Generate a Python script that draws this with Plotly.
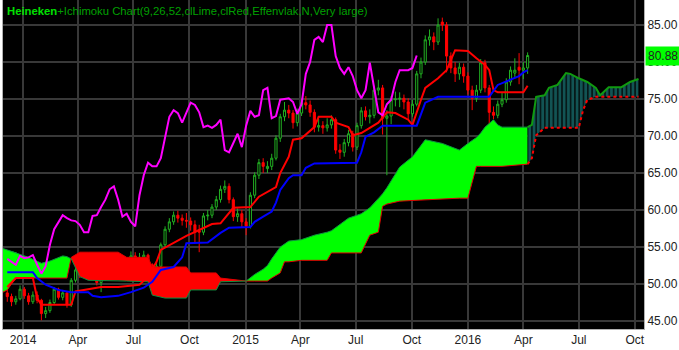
import numpy as np
import pandas as pd
import plotly.graph_objects as go

# ---------------- data (weekly candles, first week = 2013-12-06) ----------------
first_week = "2013-12-06"

opens = [48.8, 48.3, 47.6, 48.0, 49.3, 48.4, 47.6, 48.5, 47.8, 46.0,
         46.4, 47.5, 49.3, 48.2, 48.8, 47.2, 50.5, 51.9, 51.2, 51.8,
         52.2, 51.3, 50.2, 50.8, 52.6, 51.6, 51.9, 53.4, 53.0, 52.6,
         53.8, 53.5, 53.6, 53.9, 52.6, 51.4, 52.4, 55.3, 57.4, 58.4,
         59.3, 58.9, 58.6, 58.5, 58.0, 57.2, 57.0, 59.2, 59.3, 60.4,
         61.4, 62.8, 63.2, 61.4, 59.1, 59.5, 58.4, 57.8, 62.0, 64.7,
         66.4, 65.6, 65.9, 67.0, 69.7, 72.6, 73.5, 73.1, 71.8, 73.1,
         74.5, 74.2, 73.2, 71.2, 71.4, 71.1, 71.5, 72.2, 68.1, 67.8,
         69.1, 70.3, 68.5, 71.4, 73.4, 72.6, 72.8, 76.2, 76.5, 72.4,
         72.7, 74.9, 75.0, 75.1, 74.6, 73.0, 74.3, 78.4, 80.0, 83.0,
         83.4, 82.7, 85.4, 85.0, 80.8, 79.2, 78.4, 79.3, 78.1, 76.2,
         75.1, 76.2, 79.9, 76.5, 73.2, 72.8, 74.3, 74.9, 77.3, 78.5,
         79.3, 78.9, 79.2]
highs = [49.3, 48.7, 48.4, 49.8, 49.6, 48.8, 49.0, 49.0, 48.0, 46.9,
         47.9, 49.6, 49.5, 49.2, 49.0, 50.8, 52.3, 52.2, 52.4, 52.6,
         52.4, 51.6, 51.1, 53.0, 52.9, 52.4, 53.7, 53.9, 53.4, 54.4,
         54.3, 54.2, 54.5, 54.1, 52.8, 52.9, 55.6, 57.8, 58.9, 59.8,
         59.9, 59.4, 59.6, 59.0, 58.6, 58.0, 59.6, 60.0, 60.8, 61.9,
         63.3, 64.0, 63.6, 61.7, 60.2, 60.0, 58.9, 62.4, 65.1, 66.9,
         67.0, 66.6, 67.6, 70.1, 73.0, 74.6, 74.2, 73.5, 73.7, 75.0,
         75.4, 74.8, 73.6, 72.3, 72.0, 72.4, 72.8, 72.5, 68.9, 69.6,
         70.8, 70.7, 71.8, 73.9, 74.0, 73.6, 76.8, 77.6, 76.9, 73.5,
         75.4, 76.0, 75.9, 75.6, 75.1, 74.9, 78.8, 80.6, 83.6, 84.4,
         84.0, 85.9, 86.0, 85.4, 81.3, 80.0, 79.9, 79.8, 78.6, 76.8,
         76.9, 80.4, 80.3, 76.9, 74.0, 74.8, 75.9, 77.8, 79.4, 80.5,
         81.2, 80.0, 81.3]
lows = [47.6, 47.0, 47.2, 47.8, 48.0, 47.2, 47.3, 47.4, 45.1, 45.4,
        46.1, 47.3, 47.9, 47.8, 46.8, 46.9, 50.2, 50.8, 50.9, 51.4,
        50.9, 49.8, 48.9, 50.5, 51.2, 51.2, 51.5, 52.7, 52.2, 52.4,
        53.0, 53.1, 53.2, 52.2, 50.6, 51.1, 52.1, 55.0, 57.0, 58.0,
        58.3, 57.9, 57.6, 57.2, 55.5, 54.3, 56.6, 58.6, 58.9, 60.0,
        61.0, 62.3, 60.9, 58.5, 58.4, 57.6, 56.6, 57.5, 61.6, 64.2,
        65.0, 65.0, 65.4, 66.7, 69.2, 72.0, 72.4, 71.0, 71.3, 72.7,
        73.6, 72.6, 70.5, 70.6, 70.3, 70.6, 71.0, 67.6, 66.9, 67.2,
        68.6, 67.9, 68.1, 71.0, 72.1, 71.7, 72.4, 75.5, 70.2, 64.7,
        71.6, 74.0, 73.9, 73.6, 72.3, 72.6, 74.0, 77.8, 79.6, 82.2,
        81.6, 82.3, 84.2, 78.6, 78.5, 77.3, 77.6, 77.2, 75.6, 73.5,
        74.6, 75.8, 75.9, 71.0, 72.3, 72.4, 73.9, 74.5, 76.8, 77.9,
        77.0, 77.7, 78.4]
closes = [48.3, 47.6, 48.0, 49.3, 48.4, 47.6, 48.5, 47.8, 46.0, 46.4,
          47.5, 49.3, 48.2, 48.8, 47.2, 50.5, 51.9, 51.2, 51.8, 52.2,
          51.3, 50.2, 50.8, 52.6, 51.6, 51.9, 53.4, 53.0, 52.6, 53.8,
          53.5, 53.6, 53.9, 52.6, 51.4, 52.4, 55.3, 57.4, 58.4, 59.3,
          58.9, 58.6, 58.5, 58.0, 57.0, 57.0, 59.2, 59.3, 60.4, 61.4,
          62.8, 63.2, 61.4, 59.1, 59.5, 58.4, 57.8, 62.0, 64.7, 66.4,
          65.9, 65.9, 67.0, 69.7, 72.6, 73.5, 73.1, 71.8, 73.1, 74.5,
          74.2, 73.2, 71.2, 71.4, 71.1, 71.5, 72.2, 68.1, 67.8, 69.1,
          70.3, 68.5, 71.4, 73.4, 72.6, 72.8, 76.2, 76.5, 72.4, 72.7,
          74.9, 75.0, 75.1, 74.6, 73.0, 74.3, 78.4, 80.0, 83.0, 83.4,
          82.7, 85.0, 85.0, 80.8, 79.2, 78.4, 79.3, 78.1, 76.2, 75.1,
          76.2, 79.9, 76.5, 73.2, 72.8, 74.3, 74.9, 77.3, 78.9, 78.9,
          78.9, 79.2, 80.88]

# Tenkan-sen (9): week index, value
tenkan_wk = [0, 2, 6, 7, 8, 15, 16, 22, 26, 31, 33, 35, 36, 39, 42, 45, 48, 50, 52, 53,
             57, 59, 63, 64, 66, 67, 69, 72, 73, 76, 77, 80, 81, 83, 85, 87, 89, 91, 94, 95,
             97, 98, 101, 103, 105, 108, 110, 112, 113, 114, 115, 121, 122]
tenkan_val = [49.6, 50.8, 50.8, 48.1, 47.2, 47.2, 49.0, 49.6, 49.6, 49.9, 51.0, 53.0, 54.6, 55.6,
              56.5, 57.3, 58.1, 58.2, 59.6, 60.3, 60.4, 61.8, 63.1, 65.0, 67.2, 69.5, 69.7, 71.2,
              72.6, 72.6, 71.8, 71.2, 70.1, 70.4, 71.1, 71.8, 73.2, 73.1, 72.2, 71.5, 74.9, 76.5,
              77.8, 78.9, 81.6, 81.5, 80.5, 79.6, 78.9, 76.2, 75.9, 75.9, 76.8]

# Kijun-sen (26)
kijun_wk = [0, 6, 7, 9, 12, 15, 19, 20, 22, 26, 29, 32, 34, 36, 39, 41, 42, 47, 50, 52, 57, 58,
            60, 62, 63, 64, 66, 67, 69, 70, 72, 82, 83, 84, 86, 88, 96, 98, 101, 113, 115, 118,
            120, 121, 122]
kijun_val = [51.6, 51.6, 50.8, 49.9, 49.2, 48.9, 48.9, 48.4, 48.2, 48.4, 48.9, 49.5, 50.3, 51.9,
             52.3, 53.6, 55.5, 55.6, 56.9, 57.6, 57.7, 58.4, 59.1, 59.8, 61.0, 62.7, 64.3, 64.7,
             64.7, 65.7, 66.3, 66.4, 67.8, 69.9, 70.5, 71.4, 71.4, 74.5, 75.3, 75.3, 76.9, 77.6,
             78.1, 78.6, 78.9]

# Senkou spans (already shifted 26 weeks forward)
cloud_wk = [-1, 0, 2, 3, 5, 8, 10, 13, 14, 15, 17, 19, 26, 28, 33, 34, 37, 42, 43, 49, 50, 56,
            58, 60, 61, 62, 64, 65, 66, 69, 72, 75, 76, 80, 83, 85, 87, 88, 89, 92, 95, 98, 102,
            106, 108, 110, 111, 112, 114, 115, 116, 122, 123, 124, 126, 127, 129, 131, 132, 134,
            135, 136, 138, 139, 141, 144, 146, 148]
span_a = [54.8, 54.6, 54.3, 54.0, 53.6, 52.8, 53.1, 53.8, 53.7, 53.4, 51.0, 50.5, 50.5, 50.4,
          50.3, 48.5, 48.1, 48.1, 49.2, 49.2, 50.3, 50.4, 51.3, 52.0, 52.5, 53.4, 55.0, 55.4,
          55.8, 56.0, 56.6, 57.0, 57.2, 58.9, 59.5, 60.3, 61.5, 62.2, 63.0, 65.8, 67.2, 69.5,
          69.0, 68.1, 69.0, 69.8, 70.4, 71.2, 72.2, 71.5, 71.2, 71.2, 71.5, 75.3, 75.5, 76.5,
          76.9, 78.5, 78.4, 77.8, 77.6, 77.3, 76.5, 75.5, 76.6, 76.6, 77.3, 77.7]
span_b = [48.9, 49.2, 50.8, 50.8, 50.8, 50.8, 50.8, 50.8, 50.8, 53.6, 54.3, 54.3, 54.3, 53.6,
          53.6, 52.3, 52.3, 52.3, 51.5, 51.5, 50.8, 50.4, 50.4, 50.4, 50.4, 50.8, 51.5, 53.0,
          53.0, 53.2, 53.2, 53.2, 54.2, 54.2, 54.2, 56.6, 57.0, 60.5, 60.8, 61.2, 61.3, 61.4,
          61.5, 61.6, 61.6, 65.9, 65.9, 65.9, 65.9, 65.9, 65.9, 66.2, 67.0, 70.1, 71.1, 71.1,
          71.1, 71.1, 71.1, 71.1, 73.5, 74.9, 75.3, 75.3, 75.3, 75.3, 75.3, 75.3]

last_week = 122
x_tick_dates = ["2014-01-01", "2014-04-01", "2014-07-01", "2014-10-01", "2015-01-01",
                "2015-04-01", "2015-07-01", "2015-10-01", "2016-01-01", "2016-04-01",
                "2016-07-01", "2016-10-01"]
x_tick_text = ["2014", "Apr", "Jul", "Oct", "2015", "Apr", "Jul", "Oct", "2016", "Apr", "Jul", "Oct"]
y_ticks = [45, 50, 55, 60, 65, 70, 75, 80, 85]
title_main = "Heineken"
title_rest = "+Ichimoku Chart(9,26,52,clLime,clRed,Effenvlak,N,Very large)"

# ---------------- helpers ----------------
start = pd.Timestamp(first_week)


def wk2date(w):
    return start + pd.to_timedelta(np.asarray(w, dtype=float) * 7, unit="D")


dates = wk2date(np.arange(len(closes)))

fig = go.Figure()

# --- historical cloud, split at crossovers ---
hist = [(w, a, b) for w, a, b in zip(cloud_wk, span_a, span_b) if w <= last_week]
pts = []
for i in range(len(hist) - 1):
    w0, a0, b0 = hist[i]
    w1, a1, b1 = hist[i + 1]
    pts.append((w0, a0, b0))
    d0, d1 = a0 - b0, a1 - b1
    if d0 * d1 < 0:
        t = d0 / (d0 - d1)
        wx = w0 + t * (w1 - w0)
        ax = a0 + t * (a1 - a0)
        pts.append((wx, ax, ax))
pts.append(hist[-1])

runs = []
cur = [pts[0]]
cur_sign = np.sign(pts[0][1] - pts[0][2])
for p in pts[1:]:
    s = np.sign(p[1] - p[2])
    cur.append(p)
    if s == 0 or (cur_sign != 0 and s != cur_sign):
        runs.append((cur_sign, cur))
        cur = [p]
        cur_sign = s
    elif cur_sign == 0:
        cur_sign = s
runs.append((cur_sign, cur))

for s, run in runs:
    if len(run) < 2:
        continue
    if s == 0:
        s = np.sign(sum(p[1] - p[2] for p in run))
    ws = [p[0] for p in run]
    xs = list(wk2date(ws)) + list(wk2date(ws[::-1]))
    ys = [p[1] for p in run] + [p[2] for p in run[::-1]]
    fig.add_trace(go.Scatter(x=xs, y=ys, fill="toself", mode="none",
                             fillcolor="#00ff00" if s > 0 else "#ff0000",
                             hoverinfo="skip", showlegend=False))

# --- future (hatched) cloud ---
fut = [(w, a, b) for w, a, b in zip(cloud_wk, span_a, span_b) if w >= last_week]
fw = [p[0] for p in fut]
fx = list(wk2date(fw)) + list(wk2date(fw[::-1]))
fy = [p[1] for p in fut] + [p[2] for p in fut[::-1]]
fig.add_trace(go.Scatter(x=fx, y=fy, fill="toself", mode="none",
                         fillcolor="rgba(0,0,0,0)",
                         fillpattern=dict(shape="|", fgcolor="#24a8a8", bgcolor="black",
                                          size=4.3, solidity=0.72),
                         hoverinfo="skip", showlegend=False))

hw = [p[0] for p in hist]
fig.add_trace(go.Scatter(x=wk2date(hw), y=[p[2] for p in hist], mode="lines",
                         line=dict(color="#e00000", width=1), showlegend=False))
fig.add_trace(go.Scatter(x=wk2date(hw), y=[p[1] for p in hist], mode="lines",
                         line=dict(color="#109040", width=1), showlegend=False))
fig.add_trace(go.Scatter(x=wk2date(fw), y=[p[2] for p in fut], mode="lines",
                         line=dict(color="#ff0000", width=2, dash="dot"), showlegend=False))
fig.add_trace(go.Scatter(x=wk2date(fw), y=[p[1] for p in fut], mode="lines",
                         line=dict(color="#109a10", width=2), showlegend=False))

# --- candles ---
fig.add_trace(go.Candlestick(
    x=dates, open=opens, high=highs, low=lows, close=closes,
    increasing=dict(line=dict(color="#22b022", width=1), fillcolor="black"),
    decreasing=dict(line=dict(color="#ff0000", width=1), fillcolor="#ff0000"),
    whiskerwidth=0, showlegend=False))

# --- lines ---
fig.add_trace(go.Scatter(x=wk2date(tenkan_wk), y=tenkan_val, mode="lines",
                         line=dict(color="#ff0000", width=2), showlegend=False))
fig.add_trace(go.Scatter(x=wk2date(kijun_wk), y=kijun_val, mode="lines",
                         line=dict(color="#0000ff", width=2), showlegend=False))
lag = 26
fig.add_trace(go.Scatter(x=dates[:len(closes) - lag], y=closes[lag:], mode="lines",
                         line=dict(color="#ff00ff", width=2), showlegend=False))

# ---------------- layout ----------------
grid = "#383838"
fig.update_layout(
    width=679, height=350,
    margin=dict(l=3, r=35, t=0, b=21),
    paper_bgcolor="white", plot_bgcolor="black",
    font=dict(family="Liberation Sans, Arial, sans-serif", size=12, color="#222"),
    xaxis=dict(type="date", range=["2013-11-29", "2016-10-16"],
               tickvals=x_tick_dates, ticktext=x_tick_text,
               showgrid=True, gridcolor=grid, gridwidth=2,
               showline=True, linecolor="#b0b0b0", linewidth=1, mirror=True,
               rangeslider=dict(visible=False), ticks="", tickfont=dict(size=12, color="#222"),
               zeroline=False),
    yaxis=dict(side="right", range=[43.92, 88.38], tickvals=y_ticks, tickformat=".2f",
               showgrid=True, gridcolor=grid, gridwidth=2,
               showline=True, linecolor="#b0b0b0", linewidth=1, mirror=True,
               ticks="", tickfont=dict(size=12, color="#222"), zeroline=False),
    hovermode=False,
    annotations=[
        dict(xref="paper", yref="paper", x=0.0, y=1.0, xanchor="left", yanchor="top",
             xshift=2, yshift=-3, showarrow=False,
             text=f"<b><span style='color:#00e000'>{title_main}</span></b>"
                  f"<span style='color:#00a000'>{title_rest}</span>",
             font=dict(family="Liberation Sans, Arial, sans-serif", size=11.3)),
        dict(xref="paper", yref="y", x=1.0, y=closes[-1], xanchor="left", yanchor="middle",
             xshift=1, showarrow=False, text=f"{closes[-1]:.2f}", bgcolor="#00ff00",
             borderpad=2, font=dict(size=12, color="#222")),
    ],
)

fig.write_html("out.html")
